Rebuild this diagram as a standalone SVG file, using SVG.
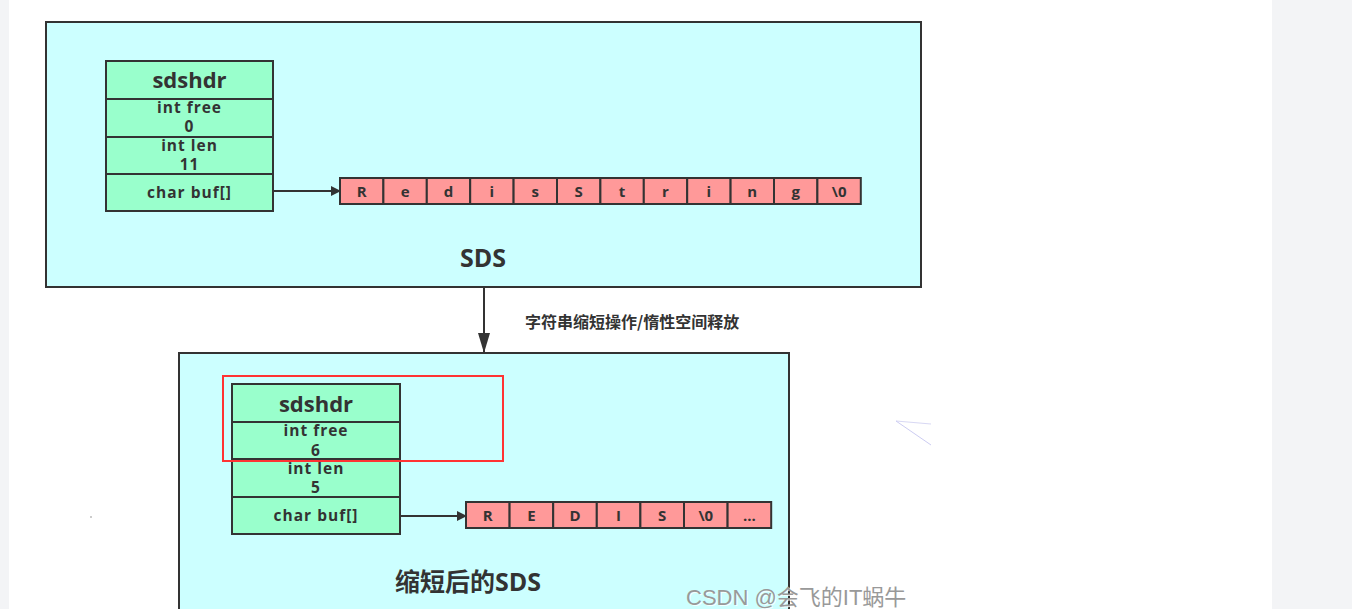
<svg xmlns="http://www.w3.org/2000/svg" width="1352" height="609" viewBox="0 0 1352 609">
  <style>
    .panel { fill: #ccffff; stroke: #333; stroke-width: 2; }
    .field { fill: #99ffcc; stroke: #333; stroke-width: 2; }
    .cell { fill: #ff9999; stroke: #333; stroke-width: 2; }
    .t { font-family: "Open Sans", "Noto Sans", "Noto Sans CJK SC", sans-serif; font-weight: bold; fill: #333; text-anchor: middle; }
    .hdr { font-size: 22px; }
    .fld { font-size: 15.5px; letter-spacing: 1px; }
    .ch { font-size: 15px; }
    .title { font-size: 25px; }
    .cap { font-family: "Noto Sans CJK SC", sans-serif; font-weight: bold; font-size: 16px; fill: #333; }
    .wire { stroke: #333; stroke-width: 2; fill: none; }
    .wm { font-family: "Liberation Sans", "Noto Sans CJK SC", sans-serif; font-size: 22px; }
  </style>
  <defs>
    <marker id="arrow" markerWidth="10" markerHeight="10" refX="9" refY="5" orient="auto" markerUnits="userSpaceOnUse">
      <path d="M0,0 L10,5 L0,10 Z" fill="#333"/>
    </marker>
    <marker id="arrowBig" markerWidth="20" markerHeight="12" refX="20" refY="6" orient="auto" markerUnits="userSpaceOnUse">
      <path d="M0,0 L20,6 L0,12 Z" fill="#333"/>
    </marker>
  </defs>

  <!-- page background with side gutters -->
  <rect x="0" y="0" width="1352" height="609" fill="#ffffff"/>
  <rect x="0" y="0" width="9" height="609" fill="#f3f4f6"/>
  <rect x="1272" y="0" width="80" height="609" fill="#f3f4f6"/>

  <!-- original SDS -->
  <g id="sds-original">
    <rect class="panel" x="46" y="22" width="875" height="265"/>
    <text class="t title" x="483" y="267">SDS</text>
  </g>

  <g id="sdshdr-original">
    <rect class="field" x="106" y="61" width="167" height="38"/>
    <rect class="field" x="106" y="99" width="167" height="38"/>
    <rect class="field" x="106" y="137" width="167" height="37"/>
    <rect class="field" x="106" y="174" width="167" height="37"/>
    <text class="t hdr" x="189.5" y="88">sdshdr</text>
    <text class="t fld" x="189.5" y="113">int free</text>
    <text class="t fld" x="189.5" y="132">0</text>
    <text class="t fld" x="189.5" y="151">int len</text>
    <text class="t fld" x="189.5" y="170">11</text>
    <text class="t fld" x="189.5" y="198">char buf[]</text>
  </g>

  <g id="buf-original">
    <rect class="cell" x="340" y="178" width="43.4" height="26"/>
    <rect class="cell" x="383.4" y="178" width="43.4" height="26"/>
    <rect class="cell" x="426.8" y="178" width="43.4" height="26"/>
    <rect class="cell" x="470.2" y="178" width="43.4" height="26"/>
    <rect class="cell" x="513.6" y="178" width="43.4" height="26"/>
    <rect class="cell" x="557" y="178" width="43.4" height="26"/>
    <rect class="cell" x="600.4" y="178" width="43.4" height="26"/>
    <rect class="cell" x="643.8" y="178" width="43.4" height="26"/>
    <rect class="cell" x="687.2" y="178" width="43.4" height="26"/>
    <rect class="cell" x="730.6" y="178" width="43.4" height="26"/>
    <rect class="cell" x="774" y="178" width="43.4" height="26"/>
    <rect class="cell" x="817.4" y="178" width="43.4" height="26"/>
    <text class="t ch" x="361.7" y="197">R</text>
    <text class="t ch" x="405.1" y="197">e</text>
    <text class="t ch" x="448.5" y="197">d</text>
    <text class="t ch" x="491.9" y="197">i</text>
    <text class="t ch" x="535.3" y="197">s</text>
    <text class="t ch" x="578.7" y="197">S</text>
    <text class="t ch" x="622.1" y="197">t</text>
    <text class="t ch" x="665.5" y="197">r</text>
    <text class="t ch" x="708.9" y="197">i</text>
    <text class="t ch" x="752.3" y="197">n</text>
    <text class="t ch" x="795.7" y="197">g</text>
    <text class="t ch" x="839.1" y="197">\0</text>
  </g>

  <!-- shortened SDS -->
  <g id="sds-shortened">
    <rect class="panel" x="179" y="353" width="610" height="262"/>
    <text class="t title" x="468" y="591">缩短后的SDS</text>
  </g>

  <g id="sdshdr-shortened">
    <rect class="field" x="232" y="384" width="168" height="38"/>
    <rect class="field" x="232" y="422" width="168" height="37"/>
    <rect class="field" x="232" y="459" width="168" height="38"/>
    <rect class="field" x="232" y="497" width="168" height="37"/>
    <text class="t hdr" x="316" y="412">sdshdr</text>
    <text class="t fld" x="316" y="436">int free</text>
    <text class="t fld" x="316" y="456">6</text>
    <text class="t fld" x="316" y="474">int len</text>
    <text class="t fld" x="316" y="493">5</text>
    <text class="t fld" x="316" y="521">char buf[]</text>
  </g>

  <g id="buf-shortened">
    <rect class="cell" x="466" y="502" width="43.6" height="26"/>
    <rect class="cell" x="509.6" y="502" width="43.6" height="26"/>
    <rect class="cell" x="553.2" y="502" width="43.6" height="26"/>
    <rect class="cell" x="596.8" y="502" width="43.6" height="26"/>
    <rect class="cell" x="640.4" y="502" width="43.6" height="26"/>
    <rect class="cell" x="684" y="502" width="43.6" height="26"/>
    <rect class="cell" x="727.6" y="502" width="43.6" height="26"/>
    <text class="t ch" x="487.8" y="521">R</text>
    <text class="t ch" x="531.4" y="521">E</text>
    <text class="t ch" x="575" y="521">D</text>
    <text class="t ch" x="618.6" y="521">I</text>
    <text class="t ch" x="662.2" y="521">S</text>
    <text class="t ch" x="705.8" y="521">\0</text>
    <text class="t ch" x="749.4" y="521">...</text>
  </g>

  <!-- highlight around the free field -->
  <g id="highlight">
    <rect x="223" y="376" width="280" height="85" fill="none" stroke="#f33" stroke-width="2"/>
  </g>

  <!-- connectors -->
  <g id="connectors">
    <line class="wire" x1="273" y1="191" x2="340" y2="191" marker-end="url(#arrow)"/>
    <line class="wire" x1="400" y1="516" x2="466" y2="516" marker-end="url(#arrow)"/>
    <line class="wire" x1="484" y1="287" x2="484" y2="353" marker-end="url(#arrowBig)"/>
    <text class="cap" x="525" y="328">字符串缩短操作/惰性空间释放</text>
  </g>

  <!-- stray marks -->
  <g id="marks">
    <line x1="896" y1="421" x2="931" y2="424" stroke="#d8d8f4" stroke-width="1"/>
    <line x1="896" y1="421" x2="931" y2="445" stroke="#ccccf2" stroke-width="1"/>
    <rect x="90" y="516" width="2" height="2" fill="#ccc"/>
  </g>

  <!-- watermark -->
  <text class="wm" x="687" y="606" fill="#fff" opacity="0.8">CSDN @会飞的IT蜗牛</text>
  <text class="wm" x="686" y="605" fill="#999">CSDN @会飞的IT蜗牛</text>
</svg>
